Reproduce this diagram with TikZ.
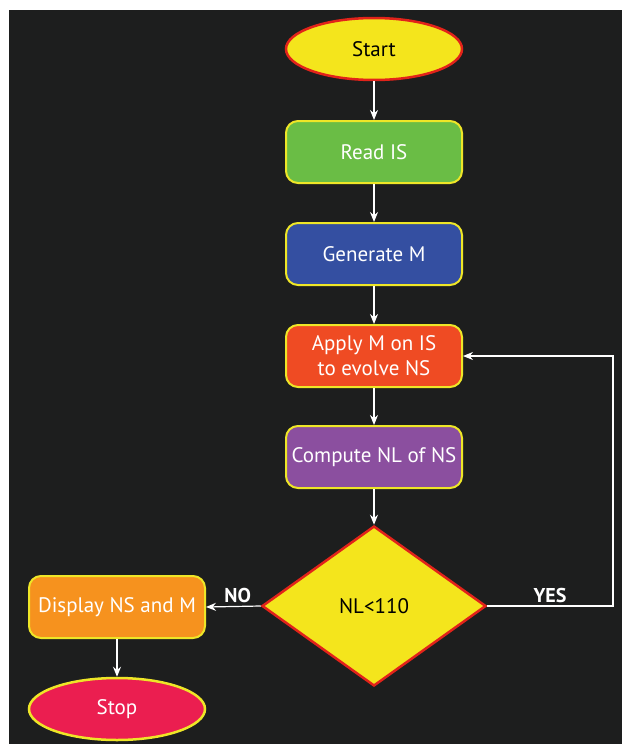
\documentclass[tikz,border=0pt]{standalone}
\usepackage{fontspec}
\setmainfont{PT Sans}
\usepackage{xcolor}
\usetikzlibrary{shapes.geometric,arrows.meta}

\definecolor{bgdark}{HTML}{1D1E1E}
\definecolor{termyellow}{HTML}{F4E51C}
\definecolor{termred}{HTML}{E2231A}
\definecolor{edgeyellow}{HTML}{EEE627}
\definecolor{readgreen}{HTML}{6ABD45}
\definecolor{genblue}{HTML}{344FA1}
\definecolor{applyred}{HTML}{EF4B23}
\definecolor{comppurple}{HTML}{8B4F9F}
\definecolor{disporange}{HTML}{F6921E}
\definecolor{stopred}{HTML}{EB1E50}

\tikzset{
  box/.style={rectangle, rounded corners=12pt, draw=edgeyellow, line width=2pt,
    minimum width=176pt, minimum height=62pt, inner sep=2pt, align=center,
    text=white, font=\fontsize{21}{25}\selectfont},
  term/.style={ellipse, line width=2.5pt, minimum width=176pt, minimum height=62pt,
    inner sep=0pt, font=\fontsize{21}{25}\selectfont},
  flow/.style={draw=white, line width=1.2pt, -{Stealth[length=10pt,width=8pt]}},
  answer/.style={text=white, font=\bfseries\fontsize{20}{24}\selectfont}
}

\begin{document}
\begin{tikzpicture}[x=1pt,y=-1pt]
\useasboundingbox (0,0) rectangle (622,744);
\fill[white] (0,0) rectangle (622,744);
\fill[bgdark] (9,10) rectangle (622,744);

\node[term, fill=termyellow, draw=termred, text=black] (start) at (374,49) {Start};
\node[box, fill=readgreen] (read) at (374,152) {Read IS};
\node[box, fill=genblue] (gen) at (374,254) {Generate M};
\node[box, fill=applyred] (apply) at (374,356) {Apply M on IS\\to evolve NS};
\node[box, fill=comppurple] (comp) at (374,457) {Compute NL of NS};
\node[diamond, fill=termyellow, draw=termred, line width=2.5pt, inner sep=0pt,
  minimum width=224pt, minimum height=160pt,
  font=\fontsize{21}{25}\selectfont] (test) at (374,606) {NL<110};
\node[box, fill=disporange] (disp) at (117,607) {Display NS and M};
\node[term, fill=stopred, draw=edgeyellow, text=white] (stop) at (117,709) {Stop};
\coordinate (loop) at (613,606);

\draw[flow] (start) -- (read);
\draw[flow] (read) -- (gen);
\draw[flow] (gen) -- (apply);
\draw[flow] (apply) -- (comp);
\draw[flow] (comp) -- (test);
\draw[flow] (test.west) -- (disp.east) node[answer, pos=0.42, above=0pt] {NO};
\draw[flow] (test.east) -- (loop) |- (apply.east);
\node[answer] (yes) at (550,595) {YES};
\draw[flow] (disp) -- (stop);
\end{tikzpicture}
\end{document}
